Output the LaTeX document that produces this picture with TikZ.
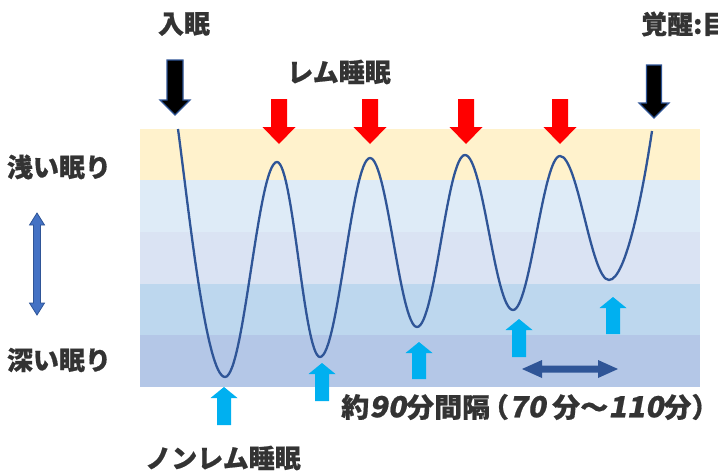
\documentclass[tikz,border=0pt]{standalone}
\usepackage{fontspec}
\newfontfamily\jp{Noto Sans CJK JP}[BoldFont={Noto Sans CJK JP Black},BoldFeatures={FakeBold=0.6}]
\newfontfamily\jpsl{Noto Sans CJK JP}[BoldFont={Noto Sans CJK JP Black},BoldFeatures={FakeBold=0.6},FakeSlant=0.18]
\definecolor{bandA}{HTML}{FFF2CC}
\definecolor{bandB}{HTML}{DEEBF7}
\definecolor{bandC}{HTML}{DAE3F3}
\definecolor{bandD}{HTML}{BDD7EE}
\definecolor{bandE}{HTML}{B4C7E7}
\definecolor{curvecol}{HTML}{2F5597}
\definecolor{txt}{HTML}{333333}
\definecolor{cyanarr}{HTML}{00B0F0}
\definecolor{lightblue}{HTML}{4472C4}
\tikzset{
  lbl/.style={font=\jp\bfseries\fontsize{26}{28}\selectfont, text=txt, inner sep=0pt},
  wave/.style={draw=curvecol, line width=2.3pt},
  pics/blockarrow/.style args={#1,#2,#3,#4}{code={
    \path[pic actions] (-#1,0) -- (#1,0) -- (#1,#3-#4) -- (#2,#3-#4) -- (0,#3)
      -- (-#2,#3-#4) -- (-#1,#3-#4) -- cycle;}},
  pics/dblarrow/.style args={#1,#2,#3,#4}{code={
    \path[pic actions] (0,0) -- (#4,-#2) -- (#4,-#1) -- (#3-#4,-#1) -- (#3-#4,-#2)
      -- (#3,0) -- (#3-#4,#2) -- (#3-#4,#1) -- (#4,#1) -- (#4,#2) -- cycle;}},
  redarr/.style={fill=red},
  blackarr/.style={fill=black, draw=curvecol, line width=1.2pt},
  cyanarrow/.style={fill=cyanarr},
}
\newcommand\numsl[1]{{\jpsl\bfseries\fontsize{29}{30}\selectfont #1}}
\begin{document}
\begin{tikzpicture}[x=1pt,y=-1pt]
\useasboundingbox (0,0) rectangle (718,472);
% bands
\fill[bandA] (140,129) rectangle (700,180);
\fill[bandB] (140,180) rectangle (700,232);
\fill[bandC] (140,232) rectangle (700,284);
\fill[bandD] (140,284) rectangle (700,335);
\fill[bandE] (140,335) rectangle (700,387);
% wave
\draw[wave] (178,129) .. controls (188,203) and (206,377) .. (225,377)
  .. controls +(19,0) and +(-19,0) .. (277,162)
  .. controls +(16,0) and +(-16,0) .. (320,357)
  .. controls +(18,0) and +(-18,0) .. (370,158)
  .. controls +(17,0) and +(-17,0) .. (417,327)
  .. controls +(18,0) and +(-18,0) .. (465,155)
  .. controls +(18,0) and +(-18,0) .. (513,310)
  .. controls +(17,0) and +(-17,0) .. (560,156)
  .. controls +(18,0) and +(-18,0) .. (609,280)
  .. controls +(17,0) and +(-9,60) .. (652,131);
% red arrows (REM)
\pic[redarr] (r1) at (279,99) {blockarrow={8,16.5,45,17}};
\pic[redarr] (r2) at (370,99) {blockarrow={8,16.5,45,17}};
\pic[redarr] (r3) at (466,99) {blockarrow={8,16.5,45,17}};
\pic[redarr] (r4) at (560,99) {blockarrow={8,16.5,45,17}};
% black arrows
\pic[blackarr] (b1) at (175,60) {blockarrow={8,15,55,15}};
\pic[blackarr] (b2) at (654,65) {blockarrow={7.5,15,53,15}};
% cyan arrows (non-REM)
\pic[cyanarrow,rotate=180] (c1) at (224,425) {blockarrow={7,13.5,38,11}};
\pic[cyanarrow,rotate=180] (c2) at (322,401) {blockarrow={7,13.5,38,11}};
\pic[cyanarrow,rotate=180] (c3) at (419,379) {blockarrow={7,13.5,37,11}};
\pic[cyanarrow,rotate=180] (c4) at (519,357) {blockarrow={7,13.5,38,11}};
\pic[cyanarrow,rotate=180] (c5) at (613,334) {blockarrow={7,13.5,37,11}};
% horizontal double arrow
\pic[fill=curvecol] (h1) at (522,369) {dblarrow={3.5,9,96,20}};
% vertical double arrow
\pic[fill=lightblue, draw=curvecol, line width=0.8pt, rotate=-90] (v1) at (37,213) {dblarrow={3.5,7.5,102,12}};
% labels
\node[lbl] (nyumin) at (184,24) {入眠};
\node[lbl] (rem) at (339,72) {レム睡眠};
\node[lbl, anchor=west] (kakusei) at (641,24) {覚醒:目覚め};
\node[lbl] (asai) at (59,167) {浅い眠り};
\node[lbl] (fukai) at (59,360) {深い眠り};
\node[lbl] (nonrem) at (223,458) {ノンレム睡眠};
\node[lbl, anchor=west, font=\jp\bfseries\fontsize{27}{28}\selectfont] (interval) at (341,407) {\scalebox{1.04}[1]{約\numsl{90}分間隔\hspace{-9pt}（\numsl{70} 分～\numsl{110}分）\hspace{-13pt}}};
\end{tikzpicture}
\end{document}
